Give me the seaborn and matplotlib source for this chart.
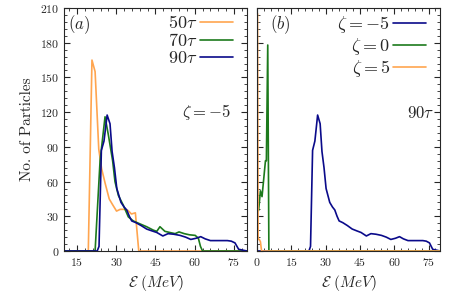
import pandas as pd
import seaborn as sns
import matplotlib.pyplot as plt
from matplotlib.ticker import MultipleLocator, AutoMinorLocator

# panel (a): zeta = -5 at three times
e_50 = [0, 19.3, 20.7, 21.9, 23.3, 24.4, 25.8, 27.3, 28.6, 30.1, 31.5, 33.0, 34.5, 35.8, 37.3, 38.6, 80]
n_50 = [0, 0, 165, 155, 88, 71, 58, 45, 40, 34.5, 36, 36, 35, 32, 33, 0, 0]

e_70 = [0, 21.9, 23.8, 25.7, 27.0, 28.6, 29.5, 30.8, 32.7, 34.6, 36.5, 39.0, 41.6, 44.2,
        45.5, 46.7, 48.6, 50.5, 52.5, 54.0, 56.0, 58.0, 60.2, 61.4, 62.2, 63.0, 80]
n_70 = [0, 0, 78, 116, 100, 78, 60, 48, 39.5, 29.5, 26, 23.5, 21, 18,
        17, 21, 17, 16, 15, 16.5, 15, 14, 13.5, 11, 4, 0, 0]

e_90 = [0, 22.7, 23.4, 24.3, 25.3, 26.5, 27.6, 28.4, 29.3, 30.2, 31.8, 33.0, 34.0, 35.0,
        35.9, 37.5, 39.5, 41.6, 43.5, 45.5, 47.8, 49.8, 52.0, 54.4, 56.5, 58.5, 60.5,
        62.3, 64.0, 66.0, 68.0, 70.0, 72.5, 74.0, 75.4, 76.8, 80]
n_90 = [0, 0, 4, 87, 95, 117.5, 110, 86, 72, 54, 42, 38, 35.5, 30,
        26, 24.5, 22, 19, 17.5, 16, 13, 15, 14.5, 13.5, 12, 10, 11,
        12.4, 10.5, 9, 9, 9, 9, 8.5, 7, 1.5, 0]

# panel (b): 90 tau at three zeta values
e_z0 = [0.7, 1.5, 2.2, 3.7, 4.1, 4.7, 5.2, 80]
n_z0 = [35, 52, 47, 78, 78, 178, 0, 0]

e_z5 = [0.25, 0.5, 1.0, 1.5, 2.0, 80]
n_z5 = [205, 10, 10, 8, 0, 0]

times = [r"$50\tau$", r"$70\tau$", r"$90\tau$"]
zetas = [r"$\zeta=-5$", r"$\zeta=0$", r"$\zeta=5$"]

orange = "#ffa54f"
green = "#1c7a1c"
navy = "#0a0a8a"


def long_frame(labels, energies, counts):
    parts = []
    for lab, e, n in zip(labels, energies, counts):
        parts.append(pd.DataFrame({"E": e, "N": n, "series": lab}))
    return pd.concat(parts, ignore_index=True)


df_a = long_frame(times, [e_50, e_70, e_90], [n_50, n_70, n_90])
df_b = long_frame(zetas, [e_90, e_z0, e_z5], [n_90, n_z0, n_z5])

sns.set_style("ticks")
plt.rcParams.update({
    "font.family": "serif",
    "font.serif": ["cmr10", "DejaVu Serif"],
    "mathtext.fontset": "cm",
    "axes.formatter.use_mathtext": True,
    "axes.unicode_minus": False,
    "xtick.direction": "in",
    "ytick.direction": "in",
    "xtick.top": True,
    "ytick.right": True,
    "xtick.major.size": 4,
    "ytick.major.size": 4,
    "xtick.minor.size": 2,
    "ytick.minor.size": 2,
    "axes.linewidth": 0.8,
})

fig = plt.figure(figsize=(4.5, 3), dpi=100)
ax1 = fig.add_axes([0.1422, 0.1633, 0.4067, 0.81])
ax2 = fig.add_axes([0.5711, 0.1633, 0.4067, 0.81])

sns.lineplot(data=df_a, x="E", y="N", hue="series", hue_order=times,
             palette=[orange, green, navy], sort=False, estimator=None,
             linewidth=1.2, ax=ax1)
sns.lineplot(data=df_b, x="E", y="N", hue="series", hue_order=zetas,
             palette=[navy, green, orange], sort=False, estimator=None,
             linewidth=1.2, ax=ax2)

for ax, xmin, xmax in [(ax1, 10, 80), (ax2, 0, 80)]:
    ax.set_xlim(xmin, xmax)
    ax.set_ylim(0, 210)
    ax.xaxis.set_major_locator(MultipleLocator(15))
    ax.yaxis.set_major_locator(MultipleLocator(30))
    ax.xaxis.set_minor_locator(AutoMinorLocator(5))
    ax.yaxis.set_minor_locator(AutoMinorLocator(5))
    ax.tick_params(which="both", top=True, right=True, labelsize=8.5)
    ax.set_xlabel(r"$\mathcal{E}\ (MeV)$", fontsize=11)
    ax.legend(loc="upper right", bbox_to_anchor=(0.963, 1.005), frameon=False,
              markerfirst=False, fontsize=13, handlelength=1.85, labelspacing=0.05,
              borderaxespad=0, handletextpad=0.15)

ax1.set_ylabel("No. of Particles", fontsize=11)
ax2.set_ylabel("")
ax2.tick_params(labelleft=False)

ax1.text(0.08, 0.93, r"$(a)$", transform=ax1.transAxes, fontsize=12, ha="center", va="center")
ax1.text(0.78, 0.57, r"$\zeta=-5$", transform=ax1.transAxes, fontsize=12, ha="center", va="center")
ax2.text(0.125, 0.93, r"$(b)$", transform=ax2.transAxes, fontsize=12, ha="center", va="center")
ax2.text(0.895, 0.57, r"$90\tau$", transform=ax2.transAxes, fontsize=12, ha="center", va="center")

fig.savefig("out.png", dpi=100)
